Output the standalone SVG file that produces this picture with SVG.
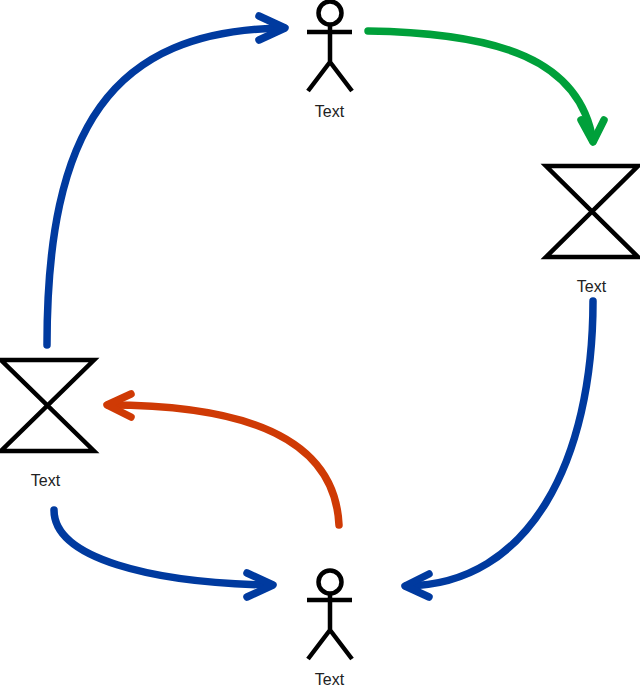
<svg xmlns="http://www.w3.org/2000/svg" width="640" height="692" viewBox="0 0 640 692">
<style>
.s{fill:none;stroke:#000;stroke-width:4.5;stroke-linecap:butt;stroke-linejoin:miter}
.h{fill:none;stroke:#000;stroke-width:4.500;stroke-linecap:butt;stroke-linejoin:miter}
.t{font-family:"Liberation Sans",Arial,sans-serif;font-size:16px;fill:#222;text-anchor:middle}
.c{fill:none;stroke-width:7.500;stroke-linecap:round;stroke-linejoin:round}
.blue{stroke:#003a9f}.green{stroke:#00a03a}.red{stroke:#cf3a05}
</style>
<rect width="640" height="692" fill="#fff"/>
<g id="connectors">
<path class="c blue" d="M47 345C47 130 110 30 284 28"/><path class="c blue" d="M259 16L285 28L259 40"/>
<path class="c green" d="M368 31C500 33 580 60 593 141"/><path class="c green" d="M581 120L593 142L604 120"/>
<path class="c blue" d="M593 301C593 460 530 585 406 586"/><path class="c blue" d="M429 574L405 586L429 597"/>
<path class="c red" d="M339 525C335 440 250 405 108 405"/><path class="c red" d="M131 394L107 405L131 417"/>
<path class="c blue" d="M54 510C54 558 150 583 271 585"/><path class="c blue" d="M247 573L273 585L247 597"/>
</g>
<g id="actor-top">
<circle class="s" cx="330" cy="13" r="11.500"/>
<path class="s" d="M330 25V62M307 32H352M330 62L308 91M330 62L352 91"/>
<text class="t" x="329.500" y="117">Text</text>
</g>
<g id="timer-right">
<path class="h" d="M546 166H638L546 257H638Z"/>
<text class="t" x="591.500" y="292">Text</text>
</g>
<g id="actor-bottom">
<circle class="s" cx="330" cy="582" r="11.500"/>
<path class="s" d="M330 594V630M307 600H352M330 630L308 659M330 630L352 659"/>
<text class="t" x="329.500" y="685">Text</text>
</g>
<g id="timer-left">
<path class="h" d="M1 360H94L1 451H94Z"/>
<text class="t" x="45.500" y="486">Text</text>
</g>
</svg>
